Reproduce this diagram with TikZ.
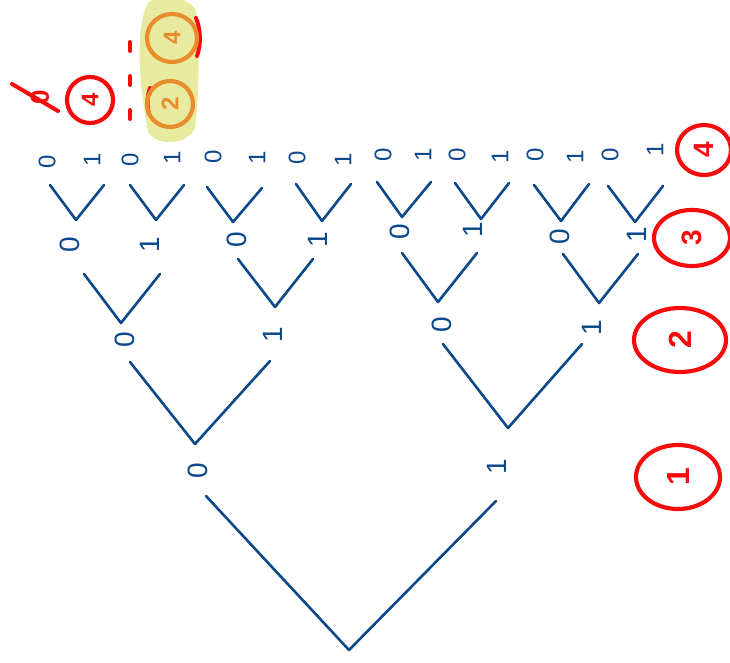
\documentclass[tikz,border=0pt]{standalone}
\usepackage{fontspec}
\setmainfont{Liberation Sans}
\usetikzlibrary{shapes.geometric}
\definecolor{treeblue}{RGB}{12,72,138}
\definecolor{inkred}{RGB}{245,12,12}
\definecolor{inkorange}{RGB}{232,140,45}
\definecolor{hilite}{RGB}{232,234,160}
\tikzset{
  bit/.style={text=treeblue, rotate=90, inner sep=0pt, font=\fontsize{24}{24}\selectfont},
  bigbit/.style={bit, font=\fontsize{28}{28}\selectfont},
  edge/.style={draw=treeblue, line width=2.6pt, line cap=round, line join=round},
  ring/.style={ellipse, draw=inkred, line width=4.2pt, rotate=90, inner sep=0pt,
    text=inkred, font=\fontsize{28}{28}\selectfont\bfseries},
  oring/.style={ring, draw=inkorange, text=inkorange},
  redink/.style={draw=inkred, line width=4pt, line cap=round}
}
\begin{document}
\begin{tikzpicture}[x=1pt,y=-1pt]
\useasboundingbox (0,0) rectangle (730,663);

% highlight
\fill[hilite] (148,3) .. controls (158,-6) and (188,-4) .. (196,10)
  .. controls (200,40) and (199,100) .. (195,128)
  .. controls (187,146) and (156,146) .. (148,132)
  .. controls (140,90) and (134,30) .. (148,3);

% level 4 labels
\foreach \n/\x/\y/\t in {a/47/162/0, b/92/160/1, c/130/160/0, d/172/158/1,
  e/213/157/0, f/257/158/1, g/297/158/0, h/343/160/1,
  i/383/155/0, j/423/155/1, k/457/155/0, l/500/157/1,
  m/535/155/0, n/575/157/1, o/610/155/0, p/655/150/1}
  \node[bit] (f\n) at (\x,\y) {\t};

% level 4 V's
\foreach \n/\ax/\ay/\vx/\vy/\bx/\by in {
  a/50/185/76/220/104/185, b/130/185/156/220/184/185,
  c/207/187/233/222/262/188, d/296/184/322/221/351/184,
  e/377/182/402/217/431/182, f/455/183/481/219/509/183,
  g/534/185/561/221/589/184, h/608/186/635/222/663/186} {
  \coordinate (fp\n) at (\ax,\ay);
  \coordinate (fv\n) at (\vx,\vy);
  \coordinate (fq\n) at (\bx,\by);
  \draw[edge] (fp\n) -- (fv\n) -- (fq\n);
}

% level 3 labels
\foreach \n/\x/\y/\t in {a/70/245/0, b/150/245/1, c/237/240/0, d/318/240/1,
  e/400/232/0, f/473/230/1, g/560/237/0, h/637/235/1}
  \node[bigbit] (t\n) at (\x,\y) {\t};

% level 3 V's
\foreach \n/\ax/\ay/\vx/\vy/\bx/\by in {
  a/84/274/121/323/160/274, b/238/259/275/307/313/259,
  c/402/253/438/302/477/253, d/563/254/599/303/638/254} {
  \coordinate (tp\n) at (\ax,\ay);
  \coordinate (tv\n) at (\vx,\vy);
  \coordinate (tq\n) at (\bx,\by);
  \draw[edge] (tp\n) -- (tv\n) -- (tq\n);
}

% level 2 labels
\foreach \n/\x/\y/\t in {a/125/340/0, b/273/335/1, c/442/325/0, d/592/328/1}
  \node[bigbit] (s\n) at (\x,\y) {\t};

% level 2 V's
\foreach \n/\ax/\ay/\vx/\vy/\bx/\by in {
  a/130/362/195/444/270/361, b/443/344/508/428/582/344} {
  \coordinate (sp\n) at (\ax,\ay);
  \coordinate (sv\n) at (\vx,\vy);
  \coordinate (sq\n) at (\bx,\by);
  \draw[edge] (sp\n) -- (sv\n) -- (sq\n);
}

% level 1 labels
\node[bigbit] (oa) at (198,471) {0};
\node[bigbit] (ob) at (497,467) {1};

% root V
\coordinate (rp) at (206,496);
\coordinate (rv) at (349,650);
\coordinate (rq) at (496,501);
\draw[edge] (rp) -- (rv) -- (rq);

% level rings on the right
\node[ring, minimum width=50pt, minimum height=54pt] (r4) at (704,150) {4};
\node[ring, minimum width=56pt, minimum height=76pt] (r3) at (692,238) {3};
\node[ring, minimum width=64pt, minimum height=92pt, font=\fontsize{32}{32}\selectfont\bfseries] (r2) at (680,340) {2};
\node[ring, minimum width=64pt, minimum height=84pt, font=\fontsize{32}{32}\selectfont\bfseries] (r1) at (678,477) {1};

% top-left annotations
\node[bit, text=inkred, font=\fontsize{26}{26}\selectfont\bfseries] (z0) at (40,97) {0};
\coordinate (zs) at (12,84);
\coordinate (ze) at (58,111);
\draw[redink] (zs) -- (ze);
\node[ring, minimum width=46pt, minimum height=46pt, font=\fontsize{24}{24}\selectfont\bfseries] (lc) at (90,100) {4};

\coordinate (dt) at (130,42);
\coordinate (db) at (130,130);
\draw[redink, dash pattern=on 9pt off 25pt] (dt) -- (db);

% red arcs under the orange rings
\coordinate (ra1) at (196,18);
\coordinate (ra2) at (197,56);
\draw[redink] (ra1) .. controls (201,30) and (201,45) .. (ra2);
\coordinate (rb1) at (150,88);
\coordinate (rb2) at (149,114);
\draw[redink] (rb1) .. controls (147,96) and (147,106) .. (rb2);

\node[oring, minimum width=48pt, minimum height=50pt, font=\fontsize{24}{24}\selectfont\bfseries] (oc1) at (172,38) {4};
\node[oring, minimum width=46pt, minimum height=46pt, font=\fontsize{24}{24}\selectfont\bfseries] (oc2) at (170,104) {2};
\end{tikzpicture}
\end{document}
